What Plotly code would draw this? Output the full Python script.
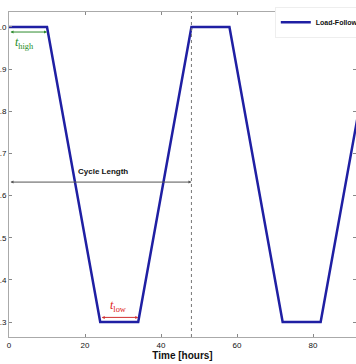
import plotly.graph_objects as go

time_h = [0, 10, 24, 34, 48, 58, 72, 82, 96]
power = [1.0, 1.0, 0.3, 0.3, 1.0, 1.0, 0.3, 0.3, 1.0]
series_name = "Load-Follow Scenario"

t_high = (0, 10)
t_low = (24, 34)
cycle = (0, 48)

fig = go.Figure()
fig.add_trace(go.Scatter(x=time_h, y=power, mode="lines", name="<b>" + series_name + "</b>",
                         line=dict(color="#1f1fa3", width=2.5)))

fig.add_shape(type="line", x0=cycle[1], x1=cycle[1], y0=0, y1=1, yref="paper",
              line=dict(color="#777777", width=1, dash="dot"))

common = dict(xref="x", yref="y", axref="x", ayref="y", showarrow=True,
              arrowside="end+start", arrowsize=0.6, arrowwidth=1, text="")
fig.add_annotation(x=t_high[1], y=0.988, ax=t_high[0], ay=0.988, arrowhead=2,
                   arrowcolor="#2e8b2e", **common)
fig.add_annotation(x=t_low[1], y=0.311, ax=t_low[0], ay=0.311, arrowhead=2,
                   arrowcolor="#d03030", **common)
fig.add_annotation(x=cycle[1], y=0.632, ax=cycle[0], ay=0.632, arrowhead=2,
                   arrowcolor="#555555", **common)

fig.add_annotation(x=4.2, y=0.962, text="<i>t</i><sub>high</sub>", showarrow=False,
                   font=dict(color="#1e8c1e", size=12, family="Liberation Serif"))
fig.add_annotation(x=28.7, y=0.338, text="<i>t</i><sub>low</sub>", showarrow=False,
                   font=dict(color="#e02020", size=12, family="Liberation Serif"))
fig.add_annotation(x=24.7, y=0.656, text="<b>Cycle Length</b>", showarrow=False,
                   font=dict(color="#111111", size=8, family="Liberation Sans"))

fig.update_layout(
    width=356, height=364,
    margin=dict(l=9, r=0, t=12, b=27, autoexpand=False),
    paper_bgcolor="white", plot_bgcolor="white",
    font=dict(family="Liberation Sans", size=8, color="#111111"),
    showlegend=True,
    legend=dict(x=0.766, y=1.016, xanchor="left", yanchor="top",
                bordercolor="#eeeeee", borderwidth=1, bgcolor="white",
                font=dict(size=7, family="Liberation Sans", color="#111111"),
                itemwidth=30),
    xaxis=dict(range=[0, 91.3], tickvals=[0, 20, 40, 60, 80],
               showgrid=False, zeroline=False, showline=True, linecolor="#aaaaaa",
               mirror="ticks", ticks="inside", ticklen=3, tickcolor="#888888",
               title=dict(text="<b>Time [hours]</b>", font=dict(size=10, color="#111111"),
                          standoff=2),
               tickfont=dict(size=8, color="#111111")),
    yaxis=dict(range=[0.2645, 1.0355], tickvals=[0.3, 0.4, 0.5, 0.6, 0.7, 0.8, 0.9, 1.0],
               ticktext=["0.3", "0.4", "0.5", "0.6", "0.7", "0.8", "0.9", "1.0"],
               showgrid=False, zeroline=False, showline=True, linecolor="#aaaaaa",
               mirror="ticks", ticks="inside", ticklen=3, tickcolor="#888888",
               tickfont=dict(size=8, color="#111111")),
)

fig.write_html("out.html", config={"displayModeBar": False},
               post_script="document.body.style.margin='0';")
